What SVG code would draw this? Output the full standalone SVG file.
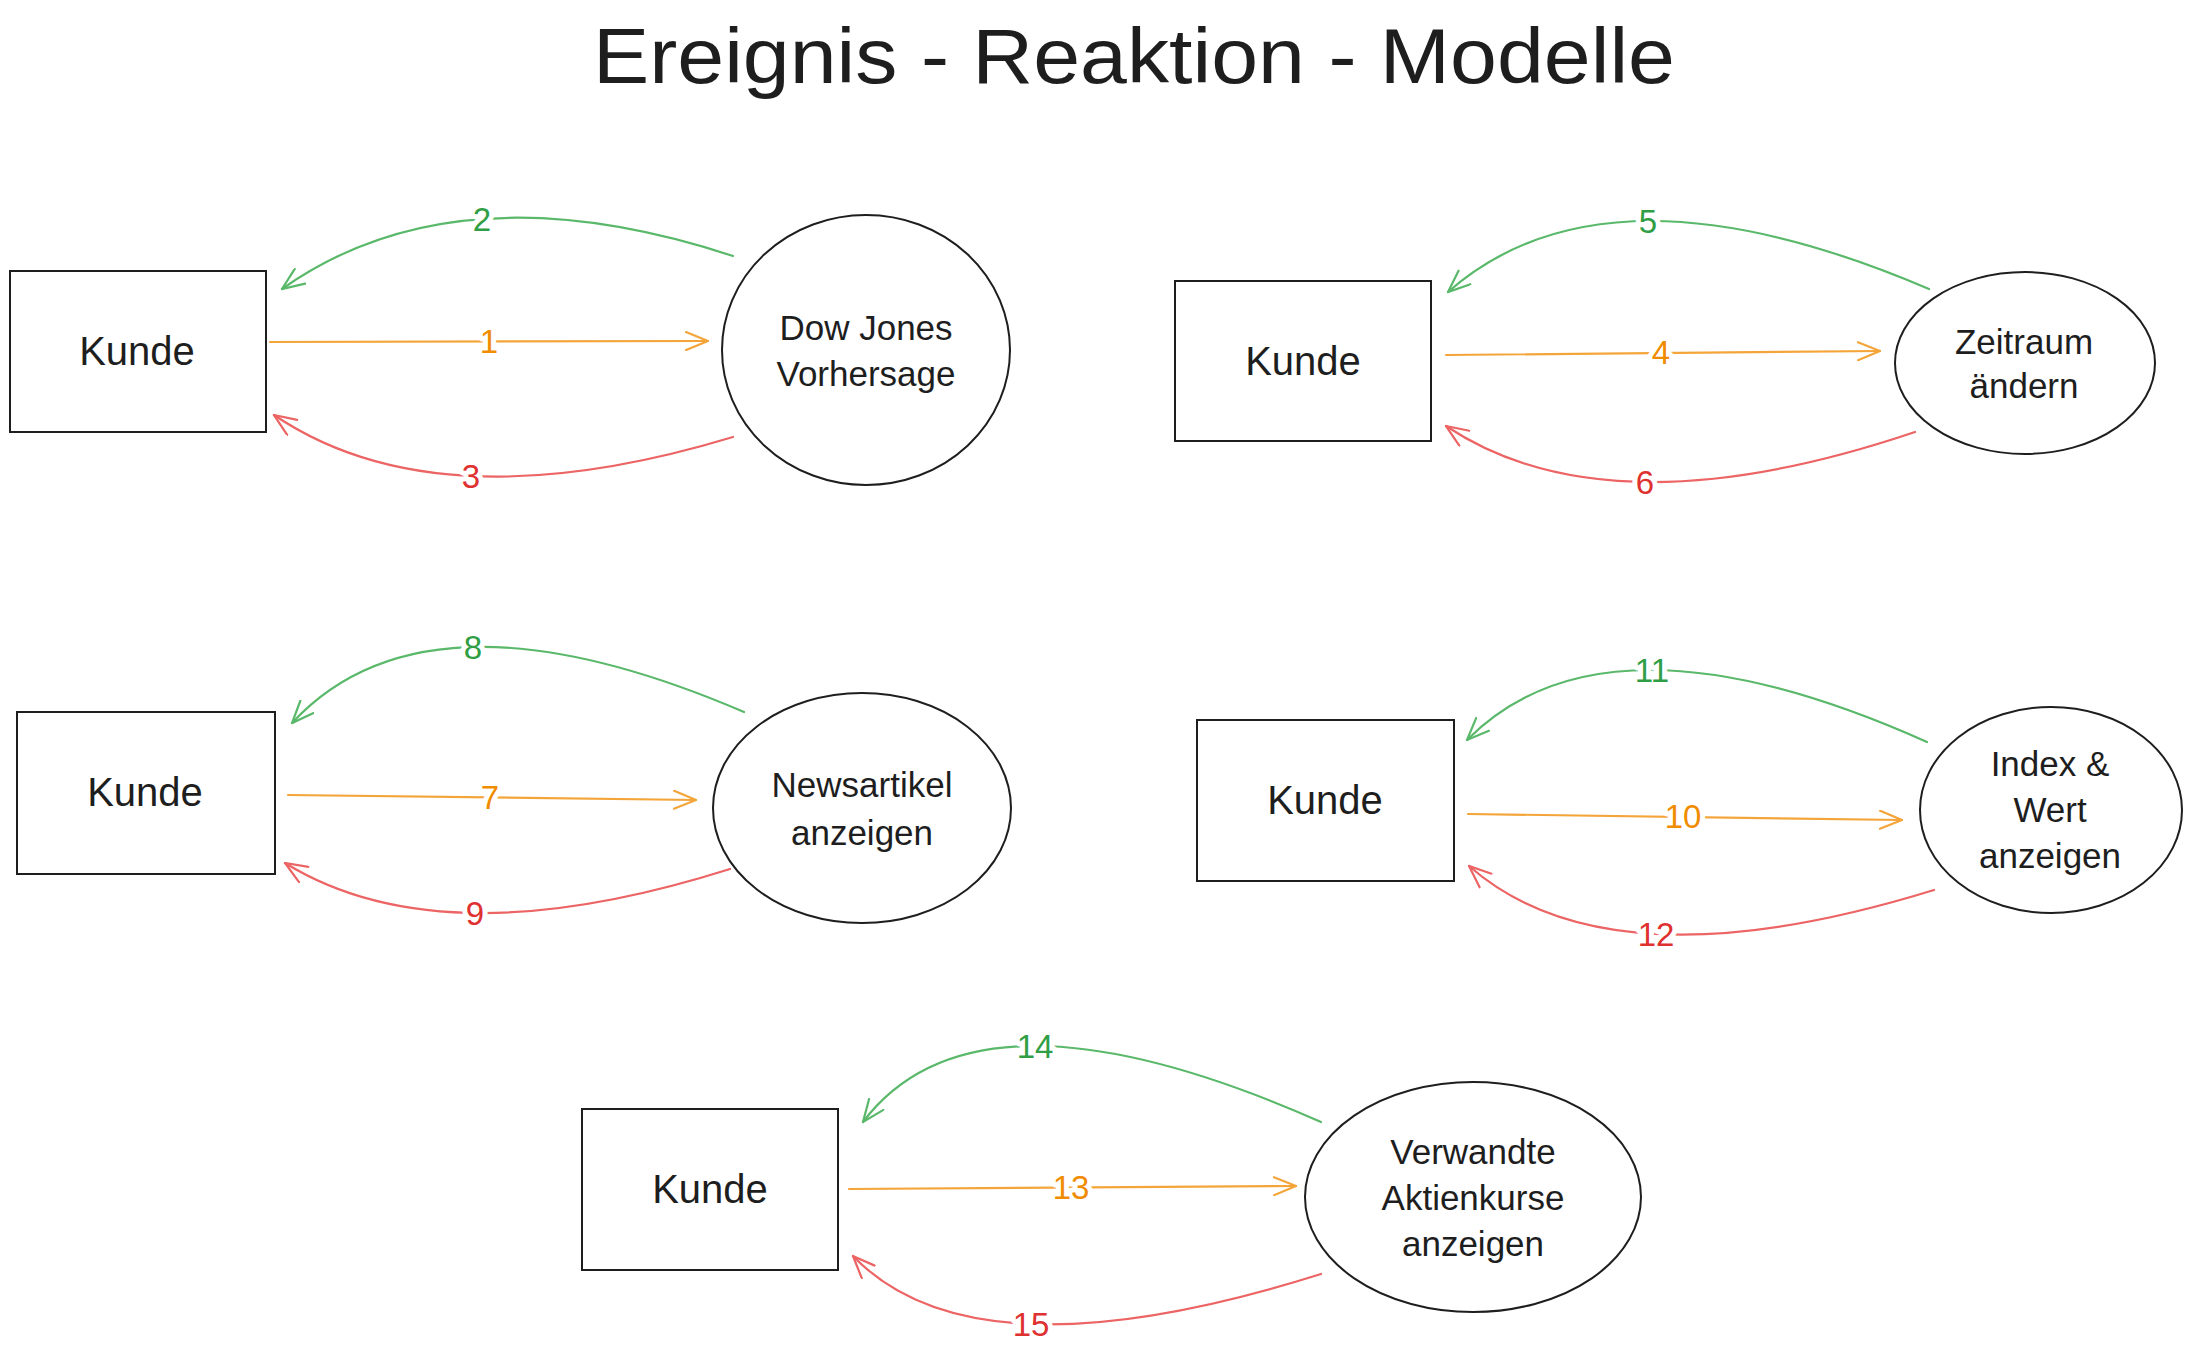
<svg xmlns="http://www.w3.org/2000/svg" width="2190" height="1358" viewBox="0 0 2190 1358">
<style>
text{font-family:"Liberation Sans",Arial,sans-serif;fill:#1e1e1e}
.title{font-size:78px}
.kunde{font-size:40px;text-anchor:middle}
.lbl{font-size:35px;text-anchor:middle}
.box{fill:#fff;stroke:#1e1e1e;stroke-width:2}
.ell{fill:#fff;stroke:#1e1e1e;stroke-width:2}
.c{fill:none;stroke-width:2.2;stroke-linecap:round}
.o{stroke:#f4a53a}
.g{stroke:#5ab86a}
.r{stroke:#ec6464}
.num{font-size:33px;text-anchor:middle;dominant-baseline:central;stroke:#fff;stroke-width:10px;paint-order:stroke;stroke-linejoin:round}
.no{fill:#f08c00}
.ng{fill:#2f9e44}
.nr{fill:#e03131}
</style>
<defs>
<marker id="ao" viewBox="0 0 24 20" refX="23" refY="10" markerWidth="24" markerHeight="20" markerUnits="userSpaceOnUse" orient="auto"><path d="M1,1 L23,10 L1,19" fill="none" stroke="#f4a53a" stroke-width="2.2" stroke-linecap="round"/></marker>
<marker id="ag" viewBox="0 0 24 20" refX="23" refY="10" markerWidth="24" markerHeight="20" markerUnits="userSpaceOnUse" orient="auto"><path d="M1,1 L23,10 L1,19" fill="none" stroke="#5ab86a" stroke-width="2.2" stroke-linecap="round"/></marker>
<marker id="ar" viewBox="0 0 24 20" refX="23" refY="10" markerWidth="24" markerHeight="20" markerUnits="userSpaceOnUse" orient="auto"><path d="M1,1 L23,10 L1,19" fill="none" stroke="#ec6464" stroke-width="2.2" stroke-linecap="round"/></marker>
</defs>
<rect width="2190" height="1358" fill="#fff"/>
<text class="title" x="593" y="83" textLength="1082" lengthAdjust="spacingAndGlyphs">Ereignis - Reaktion - Modelle</text>

<g id="kunde1"><rect class="box" x="10" y="271" width="256" height="161"/><text class="kunde" x="137" y="365">Kunde</text></g>
<g id="dowjones"><ellipse class="ell" cx="866" cy="350" rx="144" ry="135"/><text class="lbl" x="866" y="340">Dow Jones</text><text class="lbl" x="866" y="386">Vorhersage</text></g>

<g id="kunde2"><rect class="box" x="1175" y="281" width="256" height="160"/><text class="kunde" x="1303" y="375">Kunde</text></g>
<g id="zeitraum"><ellipse class="ell" cx="2025" cy="363" rx="130" ry="91"/><text class="lbl" x="2024" y="354">Zeitraum</text><text class="lbl" x="2024" y="398">ändern</text></g>

<g id="kunde3"><rect class="box" x="17" y="712" width="258" height="162"/><text class="kunde" x="145" y="806">Kunde</text></g>
<g id="newsartikel"><ellipse class="ell" cx="862" cy="808" rx="149" ry="115"/><text class="lbl" x="862" y="797">Newsartikel</text><text class="lbl" x="862" y="845">anzeigen</text></g>

<g id="kunde4"><rect class="box" x="1197" y="720" width="257" height="161"/><text class="kunde" x="1325" y="814">Kunde</text></g>
<g id="indexwert"><ellipse class="ell" cx="2051" cy="810" rx="131" ry="103"/><text class="lbl" x="2050" y="776">Index &amp;</text><text class="lbl" x="2050" y="822">Wert</text><text class="lbl" x="2050" y="868">anzeigen</text></g>

<g id="kunde5"><rect class="box" x="582" y="1109" width="256" height="161"/><text class="kunde" x="710" y="1203">Kunde</text></g>
<g id="verwandte"><ellipse class="ell" cx="1473" cy="1197" rx="168" ry="115"/><text class="lbl" x="1473" y="1164">Verwandte</text><text class="lbl" x="1473" y="1210">Aktienkurse</text><text class="lbl" x="1473" y="1256">anzeigen</text></g>

<g id="connectors">
<path class="c o" d="M270,342 L708,341" marker-end="url(#ao)"/>
<path class="c g" d="M733,256 Q456.5,165.5 282,289" marker-end="url(#ag)"/>
<path class="c r" d="M733,437 Q438.5,526 274,415" marker-end="url(#ar)"/>
<text class="num no" x="489" y="341">1</text>
<text class="num ng" x="482" y="219">2</text>
<text class="num nr" x="471" y="476">3</text>

<path class="c o" d="M1446,355 L1880,351" marker-end="url(#ao)"/>
<path class="c g" d="M1929,289 Q1607.5,151.5 1448,292" marker-end="url(#ag)"/>
<path class="c r" d="M1915,432 Q1609.5,535 1446,426" marker-end="url(#ar)"/>
<text class="num no" x="1661" y="352">4</text>
<text class="num ng" x="1648" y="221">5</text>
<text class="num nr" x="1645" y="482">6</text>

<path class="c o" d="M288,795 L696,800" marker-end="url(#ao)"/>
<path class="c g" d="M744,712 Q428,576.5 292,723" marker-end="url(#ag)"/>
<path class="c r" d="M730,869 Q442.5,960 285,863" marker-end="url(#ar)"/>
<text class="num no" x="490" y="797">7</text>
<text class="num ng" x="473" y="647">8</text>
<text class="num nr" x="475" y="913">9</text>

<path class="c o" d="M1468,814 L1902,820" marker-end="url(#ao)"/>
<path class="c g" d="M1927,742 Q1607,599 1467,740" marker-end="url(#ag)"/>
<path class="c r" d="M1934,890 Q1610.5,990 1469,866" marker-end="url(#ar)"/>
<text class="num no" x="1683" y="816">10</text>
<text class="num ng" x="1652" y="670">11</text>
<text class="num nr" x="1656" y="934">12</text>

<path class="c o" d="M849,1189 L1296,1186" marker-end="url(#ao)"/>
<path class="c g" d="M1321,1122 Q978,970 863,1122" marker-end="url(#ag)"/>
<path class="c r" d="M1321,1274 Q975,1383 853,1256" marker-end="url(#ar)"/>
<text class="num no" x="1071" y="1187">13</text>
<text class="num ng" x="1035" y="1046">14</text>
<text class="num nr" x="1031" y="1324">15</text>
</g>
</svg>
